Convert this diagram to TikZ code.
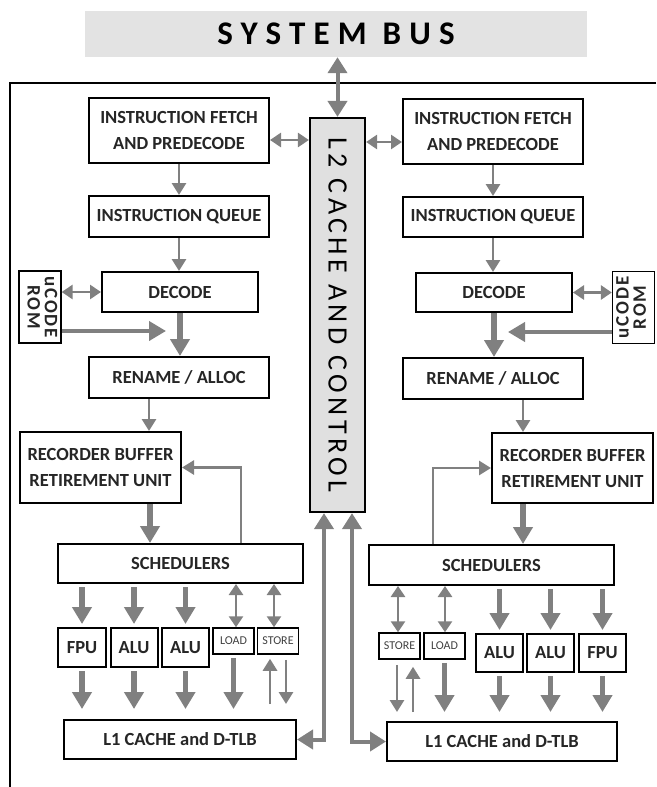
\documentclass[tikz,border=0pt]{standalone}
\usepackage{fontspec}
\setmainfont{Carlito}
\usetikzlibrary{arrows.meta,positioning,calc}
\definecolor{nyilszin}{RGB}{128,128,128}
\definecolor{sinszin}{RGB}{227,227,227}
\definecolor{lkszin}{RGB}{224,224,224}
\tikzset{
  keret/.style={line width=2.5pt},
  doboz/.style={draw,line width=2pt,fill=white,inner sep=0pt,align=center,text=black!85,
                font=\bfseries\fontsize{18.5}{26}\selectfont},
  egyseg/.style={doboz,minimum width=47pt,minimum height=39pt},
  kisdoboz/.style={draw,line width=1.5pt,inner sep=0pt,minimum width=41pt,minimum height=26pt,
                   text=black!75,font=\fontsize{12}{14}\selectfont},
  romdoboz/.style={draw,line width=1.3pt,inner sep=0pt,minimum width=42pt,minimum height=72pt,
                   text=black!85,font=\bfseries\fontsize{19}{16}\selectfont\addfontfeature{LetterSpace=10}},
  sin/.style={fill=sinszin,minimum width=502pt,minimum height=46pt,inner sep=0pt,
              font=\bfseries\fontsize{33}{33}\selectfont\addfontfeature{LetterSpace=25}},
  lkdoboz/.style={draw,line width=2.2pt,fill=lkszin,minimum width=55pt,minimum height=394pt,inner sep=0pt,
                  font=\fontsize{28}{28}\selectfont\addfontfeature{LetterSpace=16}},
  nyil/.style={-{Triangle[length=12pt,width=14pt]},line width=2.8pt,nyilszin},
  vnyil/.style={-{Triangle[length=17pt,width=19pt]},line width=5.5pt,nyilszin},
  kettos/.style={{Triangle[length=11pt,width=14pt]}-{Triangle[length=11pt,width=14pt]},line width=2.8pt,nyilszin},
  vkettos/.style={{Triangle[length=16pt,width=19pt]}-{Triangle[length=16pt,width=19pt]},line width=4pt,nyilszin},
}
\begin{document}
\begin{tikzpicture}[x=1pt,y=-1pt]
  \useasboundingbox (0,0) rectangle (656,787);
  \draw[keret] (656,83) -- (10,83) -- (10,787);
  \node[sin] (bus) at (336,34) {SYSTEM BUS};
  \node[lkdoboz] (l2) at (337.5,315) {\rotatebox{-90}{L2 CACHE AND CONTROL}};

  \node[doboz,minimum width=180pt,minimum height=65pt] (ifl) at (179,130.5) {INSTRUCTION FETCH\\AND PREDECODE};
  \node[doboz,minimum width=180pt,minimum height=41pt] (iql) at (179,216.5) {INSTRUCTION QUEUE};
  \node[doboz,minimum width=156pt,minimum height=40pt] (decl) at (180,292) {DECODE};
  \node[romdoboz] (roml) at (40,307) {\rotatebox{-90}{\begin{tabular}{@{}c@{}}uCODE\\ROM\end{tabular}}};
  \node[doboz,minimum width=180pt,minimum height=41pt] (renl) at (179,377.5) {RENAME / ALLOC};
  \node[doboz,minimum width=161pt,minimum height=71pt] (robl) at (100.5,467.5) {RECORDER BUFFER\\RETIREMENT UNIT};
  \node[doboz,minimum width=245pt,minimum height=39pt] (schl) at (180.5,563.5) {SCHEDULERS};
  \node[egyseg,minimum width=48pt] (fpul) at (82,647.5) {FPU};
  \node[egyseg,right=2.5pt of fpul] (alul1) {ALU};
  \node[egyseg,right=2.5pt of alul1] (alul2) {ALU};
  \node[kisdoboz] (loadl) at (233.5,641) {LOAD};
  \node[kisdoboz,right=2pt of loadl] (storel) {STORE};
  \node[doboz,minimum width=232pt,minimum height=39pt] (l1l) at (180,739.5) {L1 CACHE and D-TLB};

  \node[doboz,minimum width=180pt,minimum height=65pt] (ifr) at (493,131.5) {INSTRUCTION FETCH\\AND PREDECODE};
  \node[doboz,minimum width=180pt,minimum height=40pt] (iqr) at (493,217) {INSTRUCTION QUEUE};
  \node[doboz,minimum width=156pt,minimum height=39pt] (decr) at (494,292.5) {DECODE};
  \node[romdoboz] (romr) at (633.5,307.5) {\rotatebox{90}{\begin{tabular}{@{}c@{}}uCODE\\ROM\end{tabular}}};
  \node[doboz,minimum width=180pt,minimum height=41pt] (renr) at (493,378.5) {RENAME / ALLOC};
  \node[doboz,minimum width=161pt,minimum height=70pt] (robr) at (572.5,468) {RECORDER BUFFER\\RETIREMENT UNIT};
  \node[doboz,minimum width=245pt,minimum height=40pt] (schr) at (491.5,565) {SCHEDULERS};
  \node[kisdoboz] (storer) at (399.5,646) {STORE};
  \node[kisdoboz,right=2.5pt of storer] (loadr) {LOAD};
  \node[egyseg,minimum height=38pt] (alur1) at (499.5,653) {ALU};
  \node[egyseg,minimum height=38pt,right=2pt of alur1] (alur2) {ALU};
  \node[egyseg,minimum height=38pt,right=3pt of alur2] (fpur) {FPU};
  \node[doboz,minimum width=230pt,minimum height=39pt] (l1r) at (502,741.5) {L1 CACHE and D-TLB};

  \coordinate (mbl) at (166,331);
  \coordinate (mbr) at (508,332);

  \draw[vkettos] (bus.south -| l2) -- (l2.north);
  \draw[kettos] (ifl.east |- 0,140) -- (l2.west |- 0,140);
  \draw[kettos] (ifr.west |- 0,142) -- (l2.east |- 0,142);
  \draw[vkettos] (l2.south -| 324,0) |- (l1l.east);
  \draw[vkettos] (l2.south -| 352,0) |- (l1r.west);

  \draw[nyil] (ifl) -- (iql);
  \draw[nyil] (iql.south) -- (iql.south |- decl.north);
  \draw[kettos] (decl.west) -- (roml.east |- decl.west);
  \draw[vnyil,line width=4pt] (roml.east |- mbl) -- (mbl);
  \draw[vnyil] (decl.south) -- (decl.south |- renl.north);
  \draw[nyil] (renl.south -| 149,0) -- (robl.north -| 149,0);
  \draw[vnyil] (robl.south -| 150,0) -- (schl.north -| 150,0);
  \draw[nyil] (schl.north -| 241,0) |- (robl.east);
  \foreach \b in {fpul,alul1,alul2}
    \draw[vnyil,shorten <=3pt,shorten >=3pt] (schl.south -| \b) -- (\b.north);
  \draw[kettos] (schl.south -| 236,0) -- (loadl.north -| 236,0);
  \draw[kettos] (schl.south -| 274,0) -- (storel.north -| 274,0);
  \foreach \b in {fpul,alul1,alul2,loadl}
    \draw[vnyil,shorten <=3pt,shorten >=10pt] (\b.south) -- (\b.south |- l1l.north);
  \draw[nyil,shorten <=15pt,shorten >=4pt] (l1l.north -| 270,0) -- (storel.south -| 270,0);
  \draw[nyil,shorten <=5pt,shorten >=15pt] (storel.south -| 286,0) -- (l1l.north -| 286,0);

  \draw[nyil] (ifr) -- (iqr);
  \draw[nyil] (iqr.south) -- (iqr.south |- decr.north);
  \draw[kettos] (decr.east) -- (romr.west |- decr.east);
  \draw[vnyil,line width=4pt] (romr.west |- mbr) -- (mbr);
  \draw[vnyil] (decr.south) -- (decr.south |- renr.north);
  \draw[nyil] (renr.south -| 523,0) -- (robr.north -| 523,0);
  \draw[vnyil] (robr.south -| 523,0) -- (schr.north -| 523,0);
  \draw[nyil] (schr.north -| 433,0) |- (robr.west);
  \draw[kettos] (schr.south -| 398,0) -- (storer.north -| 398,0);
  \draw[kettos] (schr.south -| 445,0) -- (loadr.north -| 445,0);
  \foreach \b in {alur1,alur2,fpur}
    \draw[vnyil,shorten <=3pt,shorten >=3pt] (schr.south -| \b) -- (\b.north);
  \foreach \b in {alur1,alur2,fpur,loadr}
    \draw[vnyil,shorten <=3pt,shorten >=9pt] (\b.south) -- (\b.south |- l1r.north);
  \draw[nyil,shorten <=5pt,shorten >=9pt] (storer.south -| 397,0) -- (l1r.north -| 397,0);
  \draw[nyil,shorten <=9pt,shorten >=7pt] (l1r.north -| 413,0) -- (storer.south -| 413,0);
\end{tikzpicture}
\end{document}
